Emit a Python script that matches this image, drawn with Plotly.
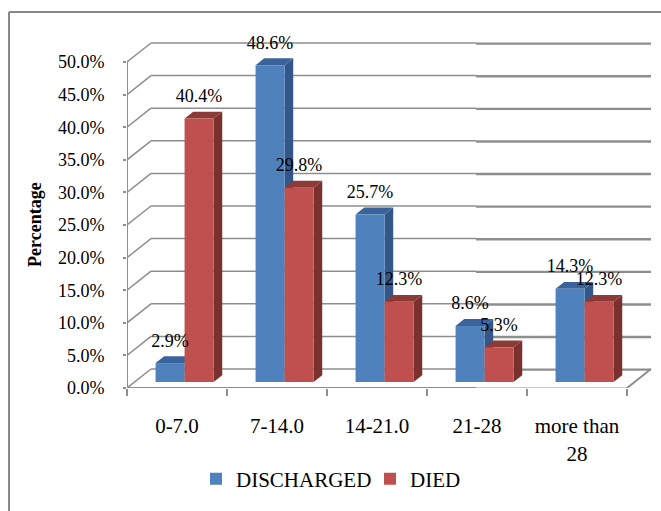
import plotly.graph_objects as go

categories = ["0-7.0", "7-14.0", "14-21.0", "21-28", "more than<br>28"]
discharged = [2.9, 48.6, 25.7, 8.6, 14.3]
died = [40.4, 29.8, 12.3, 5.3, 12.3]
y_ticks = [0, 5, 10, 15, 20, 25, 30, 35, 40, 45, 50]
BLUE, BLUE_SIDE, BLUE_TOP = "#4F81BD", "#34578A", "#3A639C"
RED, RED_SIDE, RED_TOP = "#C0504D", "#7A302E", "#8C3A37"
GRID = "#8E8E8E"
SERIF = "Liberation Serif"

PX_X, PX_Y = 100.0, 6.52            # px per category, px per percent
WALL_DX, WALL_DY = 24 / PX_X, 19 / PX_Y
BAR_FRONT = 6 / 19                  # depth of bars' front face, fraction of wall depth
BAR_D = 0.36                        # bar depth fraction
BAR_W = 0.29
base = WALL_DY * BAR_FRONT
shift = WALL_DX * BAR_FRONT
xs = list(range(len(categories)))
x_blue = [i + shift - BAR_W / 2 for i in xs]
x_red = [i + shift + BAR_W / 2 for i in xs]

shapes = []


def line(x0, y0, x1, y1, width=1.5, color=GRID):
    shapes.append(dict(type="line", xref="x", yref="y", x0=x0, y0=y0, x1=x1, y1=y1,
                       line=dict(color=color, width=width), layer="below"))


# walls and gridlines
split = 2.99
for v in y_ticks:
    line(-0.5, v, -0.5 + WALL_DX, v + WALL_DY)
    line(-0.5 + WALL_DX, v + WALL_DY, split, v + WALL_DY)
    line(split, v + WALL_DY - 0.1, 4.5 + WALL_DX, v + WALL_DY - 0.1, width=2.4)
line(-0.5, 0, -0.5, y_ticks[-1], width=2)
line(-0.5, 0, split, 0, width=2)
line(split, -0.12, 4.5, -0.12, width=2.6)
line(4.5, 0, 4.5 + WALL_DX, WALL_DY, width=2)


def poly(pts, color):
    path = "M " + " L ".join(f"{a:.4f},{b:.4f}" for a, b in pts) + " Z"
    shapes.append(dict(type="path", xref="x", yref="y", path=path, fillcolor=color,
                       line=dict(width=0), layer="below"))


def box_faces(xc, value, side_col, top_col):
    dx, dy = WALL_DX * BAR_D, WALL_DY * BAR_D
    l, r, t = xc - BAR_W / 2, xc + BAR_W / 2, value + base
    poly([(r, base), (r + dx, base + dy), (r + dx, t + dy), (r, t)], side_col)
    poly([(l, t), (r, t), (r + dx, t + dy), (l + dx, t + dy)], top_col)


for i in xs:
    box_faces(x_blue[i], discharged[i], BLUE_SIDE, BLUE_TOP)
    box_faces(x_red[i], died[i], RED_SIDE, RED_TOP)

# chart border
L, T, W, H = 127, 30, 528, 358
bx = (9 - L) / W
shapes.append(dict(type="line", xref="paper", yref="paper", x0=bx, x1=bx,
                   y0=(388 - 12) / H, y1=(388 - 511) / H, line=dict(color="#888888", width=2)))
shapes.append(dict(type="line", xref="paper", yref="paper", x0=bx, x1=(661 - L) / W,
                   y0=(388 - 12) / H, y1=(388 - 12) / H, line=dict(color="#888888", width=2)))

fig = go.Figure()
fig.add_bar(name="DISCHARGED", x=x_blue, y=discharged, base=base, width=BAR_W,
            marker=dict(color=BLUE, line=dict(width=0)), hoverinfo="skip")
fig.add_bar(name="DIED", x=x_red, y=died, base=base, width=BAR_W,
            marker=dict(color=RED, line=dict(width=0)), hoverinfo="skip")
label_up = 21 / PX_Y
for xv, vals in ((x_blue, discharged), (x_red, died)):
    fig.add_scatter(x=xv, y=[v + base + label_up for v in vals], mode="text",
                    text=[f"{v:.1f}%" for v in vals], textposition="middle center",
                    textfont=dict(family=SERIF, size=18, color="#000000"),
                    showlegend=False, hoverinfo="skip", cliponaxis=False)

fig.update_layout(
    width=661, height=511, autosize=False,
    margin=dict(l=L, r=661 - L - W, t=T, b=511 - T - H, pad=0),
    paper_bgcolor="white", plot_bgcolor="white",
    barmode="overlay", shapes=shapes,
    font=dict(family=SERIF, color="#000000"),
    legend=dict(orientation="h", x=(196 - L) / W, y=(388 - 479) / H, xanchor="left", yanchor="middle",
                font=dict(family=SERIF, size=21), bgcolor="rgba(0,0,0,0)", itemwidth=30,
                entrywidth=129, entrywidthmode="pixels", traceorder="normal"),
    annotations=[dict(text="<b>Percentage</b>", textangle=-90, xref="paper", yref="paper",
                      x=(35 - L) / W, y=(388 - 225) / H, xanchor="center", yanchor="middle",
                      showarrow=False, font=dict(family=SERIF, size=18))],
    xaxis=dict(range=[-0.5, -0.5 + W / PX_X], tickmode="array", tickvals=xs, ticktext=categories,
               showgrid=False, zeroline=False, showline=False, ticks="outside", ticklen=19,
               tickcolor="rgba(0,0,0,0)", tickfont=dict(family=SERIF, size=21),
               minor=dict(tickmode="array", tickvals=[i - 0.5 for i in range(len(categories) + 1)],
                          ticks="outside", ticklen=7, tickwidth=2, tickcolor=GRID, showgrid=False)),
    yaxis=dict(range=[0, H / PX_Y], tickmode="array", tickvals=y_ticks,
               ticktext=[f"{v:.1f}%" for v in y_ticks], showgrid=False, zeroline=False, showline=False,
               ticks="outside", ticklen=18, tickcolor="rgba(0,0,0,0)",
               tickfont=dict(family=SERIF, size=18),
               minor=dict(tickmode="array", tickvals=y_ticks, ticks="outside", ticklen=3, tickwidth=2,
                          tickcolor=GRID, showgrid=False)),
)

fig.write_html("out.html", config={"displayModeBar": False},
               post_script="document.body.style.margin='0';document.documentElement.style.overflow='hidden';")
